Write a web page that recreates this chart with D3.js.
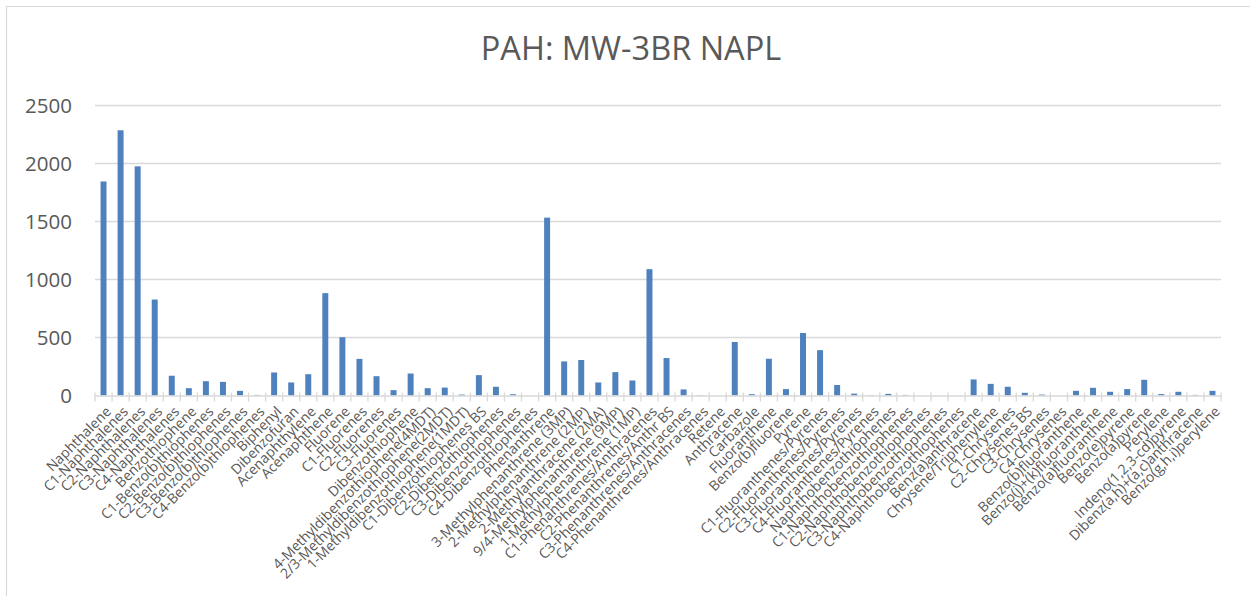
<!DOCTYPE html>
<html>
<head>
<meta charset="utf-8">
<script src="https://cdn.jsdelivr.net/npm/d3@7"></script>
<style>
  html, body { margin: 0; padding: 0; background: #fff; }
  svg { display: block; }
</style>
</head>
<body>
<svg id="chart" width="1250" height="604"></svg>
<script>
const title = "PAH: MW-3BR NAPL";

const categories = [
  "Naphthalene", "C1-Naphthalenes", "C2-Naphthalenes", "C3-Naphthalenes", "C4-Naphthalenes",
  "Benzothiophene", "C1-Benzo(b)thiophenes", "C2-Benzo(b)thiophenes", "C3-Benzo(b)thiophenes", "C4-Benzo(b)thiophenes",
  "Biphenyl", "Dibenzofuran", "Acenaphthylene", "Acenaphthene", "Fluorene",
  "C1-Fluorenes", "C2-Fluorenes", "C3-Fluorenes", "Dibenzothiophene",
  "4-Methyldibenzothiophene(4MDT)", "2/3-Methyldibenzothiophene(2MDT)", "1-Methyldibenzothiophene(1MDT)",
  "C1-Dibenzothiophenes BS", "C2-Dibenzothiophenes", "C3-Dibenzothiophenes", "C4-Dibenzothiophenes",
  "Phenanthrene", "3-Methylphenanthrene (3MP)", "2-Methylphenanthrene (2MP)", "2-Methylanthracene (2MA)",
  "9/4-Methylphenanthrene (9MP)", "1-Methylphenanthrene (1MP)",
  "C1-Phenanthrenes/Anthracenes", "C2-Phenanthrenes/Anthr BS", "C3-Phenanthrenes/Anthracenes", "C4-Phenanthrenes/Anthracenes",
  "Retene", "Anthracene", "Carbazole", "Fluoranthene", "Benzo(b)fluorene", "Pyrene",
  "C1-Fluoranthenes/Pyrenes", "C2-Fluoranthenes/Pyrenes", "C3-Fluoranthenes/Pyrenes", "C4-Fluoranthenes/Pyrenes",
  "Naphthobenzothiophenes", "C1-Naphthobenzothiophenes", "C2-Naphthobenzothiophenes", "C3-Naphthobenzothiophenes", "C4-Naphthobenzothiophenes",
  "Benz(a)anthracene", "Chrysene/Triphenylene", "C1-Chrysenes", "C2-Chrysenes BS", "C3-Chrysenes", "C4-Chrysenes",
  "Benzo(b)fluoranthene", "Benzo(j)+(k)fluoranthene", "Benzo(a)fluoranthene", "Benzo(e)pyrene", "Benzo(a)pyrene",
  "Perylene", "Indeno(1,2,3-cd)pyrene", "Dibenz(a,h)+(a,c)anthracene", "Benzo(g,h,i)perylene"
];

const values = [
  1840, 2280, 1970, 825, 170,
  63, 123, 117, 40, 5,
  198, 112, 183, 880, 501,
  315, 166, 46, 189,
  63, 68, 8,
  175, 75, 11, 0,
  1529, 293, 305, 112,
  201, 129,
  1086, 322, 52, 3,
  0, 460, 11, 316, 55, 537,
  390, 90, 16, 3,
  14, 5, 0, 0, 0,
  138, 100, 75, 23, 8, 0,
  40, 66, 32, 55, 135,
  12, 32, 5, 40
];

const yTicks = [0, 500, 1000, 1500, 2000, 2500];

const svg = d3.select("#chart");
const textColor = "#595959";
const gridColor = "#d9d9d9";
const barColor = "#4f81bd";
const font = "'Open Sans', sans-serif";

// outer chart border (partially visible)
svg.append("path")
  .attr("d", "M6.5,596 V6.5 H1250")
  .attr("fill", "none")
  .attr("stroke", gridColor)
  .attr("stroke-width", 1.2);

const x = d3.scaleBand()
  .domain(categories)
  .range([95, 1221])
  .paddingInner(0.65)
  .paddingOuter(0.325);

const y = d3.scaleLinear()
  .domain([0, 2500])
  .range([395.5, 104.7]);

// gridlines
svg.append("g")
  .selectAll("line")
  .data(yTicks.filter(d => d > 0))
  .join("line")
  .attr("x1", 95).attr("x2", 1221)
  .attr("y1", d => Math.round(y(d)) + 0.5)
  .attr("y2", d => Math.round(y(d)) + 0.5)
  .attr("stroke", gridColor)
  .attr("stroke-width", 1.3);

// y axis labels
const yAxis = d3.axisLeft(y).tickValues(yTicks).tickFormat(d3.format("d")).tickSize(0).tickPadding(0);
const yg = svg.append("g").attr("transform", "translate(72,0)").call(yAxis);
yg.select(".domain").remove();
yg.selectAll("text")
  .attr("fill", textColor)
  .style("font-family", font)
  .style("font-size", "20.5px")
  .attr("dy", "0.36em");

// bars
svg.append("g")
  .selectAll("rect")
  .data(categories.map((c, i) => ({ c, v: values[i] })))
  .join("rect")
  .attr("x", d => x(d.c))
  .attr("width", x.bandwidth())
  .attr("y", d => y(d.v))
  .attr("height", d => y(0) - y(d.v))
  .attr("fill", barColor);

// x axis line and ticks
const step = x.step();
const boundaries = d3.range(categories.length + 1).map(i => 95 + i * step);
svg.append("line")
  .attr("x1", 95).attr("x2", 1221)
  .attr("y1", 396).attr("y2", 396)
  .attr("stroke", gridColor)
  .attr("stroke-width", 1.5);
svg.append("g")
  .selectAll("line")
  .data(boundaries)
  .join("line")
  .attr("x1", d => d).attr("x2", d => d)
  .attr("y1", 392.5).attr("y2", 401.5)
  .attr("stroke", gridColor)
  .attr("stroke-width", 1.3);

// x labels
svg.append("g")
  .selectAll("text")
  .data(categories)
  .join("text")
  .attr("transform", d => `translate(${x(d) + x.bandwidth() / 2 + 5},${409}) rotate(-45)`)
  .attr("text-anchor", "end")
  .attr("dy", "0.35em")
  .attr("fill", textColor)
  .style("font-family", font)
  .style("font-size", "14px")
  .text(d => d);

// title
svg.append("text")
  .attr("x", 631)
  .attr("y", 60)
  .attr("text-anchor", "middle")
  .attr("fill", textColor)
  .style("font-family", font)
  .style("font-size", "32.5px")
  .text(title);
</script>
</body>
</html>
